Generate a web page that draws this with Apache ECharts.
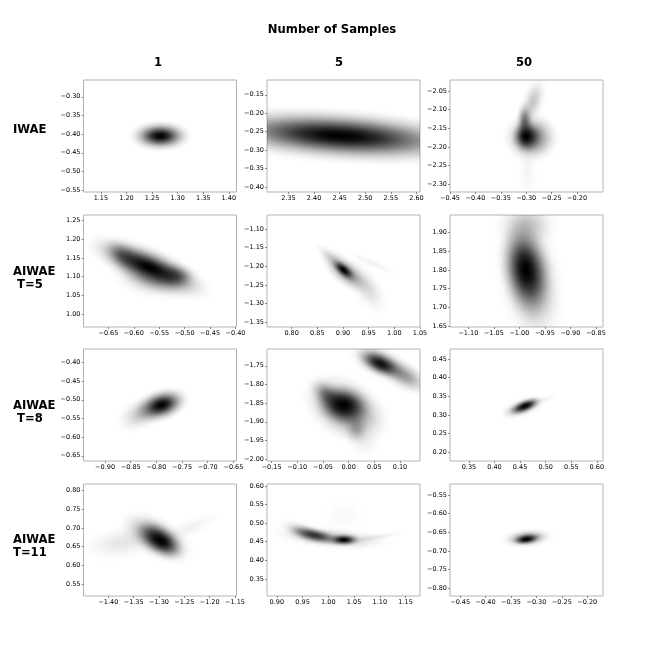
<!DOCTYPE html>
<html>
<head>
<meta charset="utf-8">
<style>
  html, body { margin: 0; padding: 0; background: #fff; }
  #main { width: 670px; height: 670px; }
</style>
<script src="https://cdn.jsdelivr.net/npm/echarts@6/dist/echarts.min.js"></script>
</head>
<body>
<div id="main"></div>
<script>
// axis ranges, row by row
const xRanges = [
  [1.116, 1.415], [2.308, 2.607], [-0.45, -0.149],
  [-0.699, -0.398], [0.752, 1.05], [-1.136, -0.836],
  [-0.942, -0.644], [-0.159, 0.139], [0.313, 0.612],
  [-1.449, -1.147], [0.881, 1.178], [-0.47, -0.169]
];
const yRanges = [
  [-0.555, -0.255], [-0.413, -0.11], [-2.321, -2.021],
  [0.965, 1.265], [-1.363, -1.063], [1.647, 1.947],
  [-0.664, -0.364], [-2.005, -1.705], [0.176, 0.477],
  [0.518, 0.818], [0.304, 0.605], [-0.821, -0.521]
];
const xTicks = [
  [1.15, 1.2, 1.25, 1.3, 1.35, 1.4], [2.35, 2.4, 2.45, 2.5, 2.55, 2.6], [-0.45, -0.4, -0.35, -0.3, -0.25, -0.2],
  [-0.65, -0.6, -0.55, -0.5, -0.45, -0.4], [0.8, 0.85, 0.9, 0.95, 1, 1.05], [-1.1, -1.05, -1, -0.95, -0.9, -0.85],
  [-0.9, -0.85, -0.8, -0.75, -0.7, -0.65], [-0.15, -0.1, -0.05, 0, 0.05, 0.1], [0.35, 0.4, 0.45, 0.5, 0.55, 0.6],
  [-1.4, -1.35, -1.3, -1.25, -1.2, -1.15], [0.9, 0.95, 1, 1.05, 1.1, 1.15], [-0.45, -0.4, -0.35, -0.3, -0.25, -0.2]
];
const yTicks = [
  [-0.55, -0.5, -0.45, -0.4, -0.35, -0.3], [-0.4, -0.35, -0.3, -0.25, -0.2, -0.15], [-2.3, -2.25, -2.2, -2.15, -2.1, -2.05],
  [1, 1.05, 1.1, 1.15, 1.2, 1.25], [-1.35, -1.3, -1.25, -1.2, -1.15, -1.1], [1.65, 1.7, 1.75, 1.8, 1.85, 1.9],
  [-0.65, -0.6, -0.55, -0.5, -0.45, -0.4], [-2, -1.95, -1.9, -1.85, -1.8, -1.75], [0.2, 0.25, 0.3, 0.35, 0.4, 0.45],
  [0.55, 0.6, 0.65, 0.7, 0.75, 0.8], [0.35, 0.4, 0.45, 0.5, 0.55, 0.6], [-0.8, -0.75, -0.7, -0.65, -0.6, -0.55]
];

// density lobes: x, y, reach along, reach across, tilt in degrees, darkness
const iwae1 = [[1.266, -0.405, 0.066, 0.045, 0, 1]];
const iwae5 = [[2.451, -0.261, 0.32, 0.08, -3.8, 1]];
const iwae50 = [
  [-0.29, -2.175, 0.06, 0.075, 0, 0.6],
  [-0.3, -2.172, 0.032, 0.05, 0, 1],
  [-0.303, -2.13, 0.02, 0.06, 0, 0.5],
  [-0.287, -2.08, 0.06, 0.035, 72, 0.22],
  [-0.297, -2.265, 0.025, 0.09, 0, 0.04]
];
const t5s1 = [
  [-0.565, 1.095, 0.09, 0.06, -12, 0.3],
  [-0.62, 1.155, 0.05, 0.04, -35, 0.4],
  [-0.52, 1.103, 0.05, 0.04, -8, 0.5],
  [-0.57, 1.125, 0.14, 0.06, -23, 1]
];
const t5s5 = [
  [0.957, -1.192, 0.07, 0.015, -24, 0.05],
  [0.945, -1.255, 0.07, 0.045, -55, 0.15],
  [0.875, -1.175, 0.045, 0.025, -40, 0.12],
  [0.905, -1.215, 0.065, 0.04, -40, 0.5],
  [0.901, -1.21, 0.032, 0.02, -40, 1]
];
const t5s50 = [
  [-0.985, 1.92, 0.07, 0.08, 0, 0.22],
  [-0.98, 1.78, 0.15, 0.095, -80, 0.45],
  [-0.987, 1.8, 0.105, 0.075, -80, 1]
];
const t8s1 = [
  [-0.825, -0.535, 0.065, 0.05, 25, 0.25],
  [-0.79, -0.514, 0.06, 0.048, 18, 1]
];
const t8s5 = [
  [-0.005, -1.865, 0.1, 0.09, -30, 0.6],
  [0.03, -1.955, 0.04, 0.05, 0, 0.06],
  [0.015, -1.92, 0.03, 0.05, 0, 0.25],
  [-0.04, -1.83, 0.05, 0.04, -40, 0.45],
  [-0.01, -1.855, 0.06, 0.06, -10, 1],
  [0.06, -1.74, 0.07, 0.05, -25, 0.4],
  [0.107, -1.775, 0.07, 0.045, -30, 0.4],
  [0.0624, -1.745, 0.055, 0.035, -25, 0.9]
];
const t8s50 = [
  [0.5, 0.342, 0.03, 0.012, 15, 0.05],
  [0.455, 0.32, 0.052, 0.028, 20, 0.4],
  [0.46, 0.324, 0.038, 0.02, 22, 1]
];
const t11s1 = [
  [-1.37, 0.662, 0.1, 0.055, 10, 0.1],
  [-1.24, 0.7, 0.08, 0.03, 25, 0.06],
  [-1.305, 0.675, 0.085, 0.06, -30, 0.55],
  [-1.297, 0.666, 0.06, 0.045, -32, 1]
];
const t11s5 = [
  [1.03, 0.52, 0.05, 0.06, 0, 0.03],
  [1.005, 0.46, 0.13, 0.034, -5, 0.25],
  [0.955, 0.475, 0.06, 0.028, -20, 0.3],
  [1.09, 0.462, 0.07, 0.014, 8, 0.08],
  [0.975, 0.467, 0.06, 0.024, -12, 0.7],
  [1.03, 0.455, 0.037, 0.02, 0, 1]
];
const t11s50 = [
  [-0.318, -0.666, 0.055, 0.028, 5, 0.5],
  [-0.32, -0.669, 0.032, 0.017, 8, 1]
];
const panels = [iwae1, iwae5, iwae50, t5s1, t5s5, t5s50, t8s1, t8s5, t8s50, t11s1, t11s5, t11s50];

const colNames = ['1', '5', '50'];
const rowNames = ['IWAE', 'AIWAE\n T=5', 'AIWAE\n T=8', 'AIWAE\nT=11'];

const colLeft = [83.5, 267, 450];
const rowTop = [80, 215, 349, 484];
const colCenter = [158, 339, 524];
const rowLabelTop = [123, 265, 399, 533];
const panelW = 153;
const panelH = 112;
const fontName = 'DejaVu Sans';

function tickText(v) {
  return (v < 0 ? '\u2212' : '') + Math.abs(v).toFixed(2);
}

// soft edge for one lobe, fades out fully before the rim of the circle
function lobeStops(dark) {
  const stops = [];
  for (let k = 0; k <= 24; k++) {
    const r = k / 24;
    const a = Math.exp(-r * r / (2 * 0.38 * 0.38)) * (1 - r * r * r * r);
    stops.push({ offset: r, color: 'rgba(0,0,0,' + (a * dark).toFixed(4) + ')' });
  }
  return stops;
}

function lobe(params, api) {
  const c = api.coord([api.value(0), api.value(1)]);
  const s = api.size([api.value(2), api.value(3)]);
  return {
    type: 'circle',
    x: c[0],
    y: c[1],
    scaleX: s[0] / 100,
    scaleY: s[1] / 100,
    rotation: api.value(4) * Math.PI / 180,
    shape: { cx: 0, cy: 0, r: 100 },
    style: { fill: new echarts.graphic.RadialGradient(0.5, 0.5, 0.5, lobeStops(api.value(5))) }
  };
}

const grids = [], xAxes = [], yAxes = [], series = [];
panels.forEach((blobs, i) => {
  const col = i % 3, row = Math.floor(i / 3);
  grids.push({
    left: colLeft[col], top: rowTop[row], width: panelW, height: panelH,
    show: true, borderColor: '#b4b4b4', borderWidth: 1, backgroundColor: '#fff'
  });
  const axisBase = {
    type: 'value', gridIndex: i, splitLine: { show: false },
    axisLine: { show: false, onZero: false }
  };
  xAxes.push(Object.assign({}, axisBase, {
    min: xRanges[i][0], max: xRanges[i][1],
    axisTick: { show: true, length: 2, customValues: xTicks[i], lineStyle: { color: '#444', width: 0.6 } },
    axisLabel: { customValues: xTicks[i], formatter: tickText, margin: 3, fontSize: 6.5, fontFamily: fontName, color: '#000' }
  }));
  yAxes.push(Object.assign({}, axisBase, {
    min: yRanges[i][0], max: yRanges[i][1],
    axisTick: { show: true, length: 2, customValues: yTicks[i], lineStyle: { color: '#444', width: 0.6 } },
    axisLabel: { customValues: yTicks[i], formatter: tickText, margin: 3, fontSize: 6.5, fontFamily: fontName, color: '#000' }
  }));
  series.push({
    type: 'custom', xAxisIndex: i, yAxisIndex: i, clip: true,
    renderItem: lobe, data: blobs, silent: true, animation: false,
    encode: { x: 0, y: 1 }
  });
});

const labels = [{
  type: 'text', x: 332, y: 24,
  style: { text: 'Number of Samples', font: 'bold 11.6px "DejaVu Sans"', fill: '#000', textAlign: 'center' }
}];
colNames.forEach((name, j) => {
  labels.push({
    type: 'text', x: colCenter[j], y: 57,
    style: { text: name, font: 'bold 11.6px "DejaVu Sans"', fill: '#000', textAlign: 'center' }
  });
});
rowNames.forEach((name, j) => {
  labels.push({
    type: 'text', x: 13, y: rowLabelTop[j],
    style: { text: name, font: 'bold 11.6px "DejaVu Sans"', fill: '#000', lineHeight: 13 }
  });
});

const chart = echarts.init(document.getElementById('main'), null, { renderer: 'canvas' });
chart.setOption({
  animation: false,
  backgroundColor: '#fff',
  grid: grids,
  xAxis: xAxes,
  yAxis: yAxes,
  series: series,
  graphic: labels
});
</script>
</body>
</html>
